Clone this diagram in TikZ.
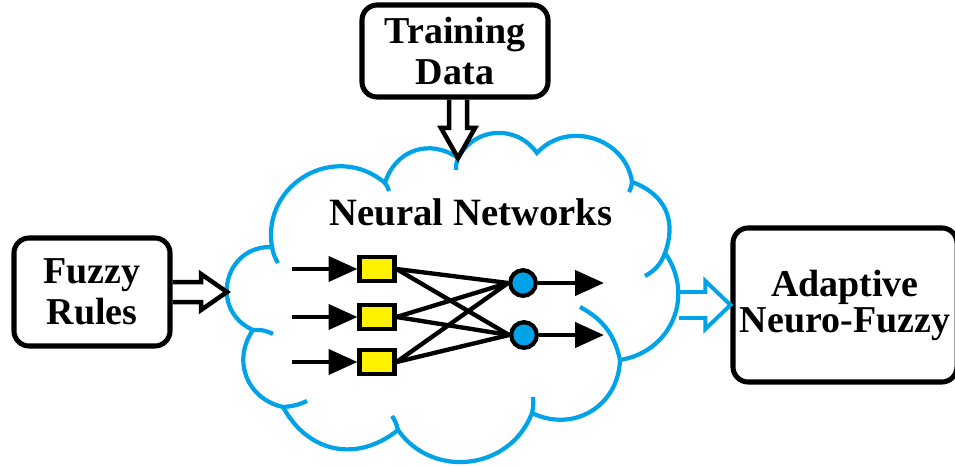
\documentclass[tikz,border=0pt]{standalone}
\usepackage{fontspec}
\setmainfont{Liberation Serif}
\usetikzlibrary{arrows.meta,calc}
\definecolor{skyblue}{RGB}{0,162,232}
\definecolor{unityellow}{RGB}{255,242,0}

\begin{document}
\begin{tikzpicture}[x=0.025cm, y=-0.025cm,
        box/.style={draw, line width=3.6pt, rounded corners=0.38cm, align=center, font=\fontsize{27}{29.5}\selectfont\bfseries},
        hollow/.style={draw, line width=3.2pt, line join=miter},
        cloudline/.style={draw=skyblue, line width=3pt},
        puff/.style={bend left=#1, looseness=1.15},
        wire/.style={line width=3.1pt},
        flow/.style={wire, -{Triangle[length=0.72cm, width=0.62cm]}},
        unit/.style={draw, line width=3pt, fill=unityellow, minimum width=0.87cm, minimum height=0.6cm, inner sep=0pt},
        neuron/.style={circle, draw, line width=3pt, fill=skyblue, minimum size=0.64cm, inner sep=0pt}]
    \useasboundingbox (0,0) rectangle (955,466);

    % Boxes
    \node[box, minimum width=4.65cm, minimum height=2.3cm] (train) at (455,51) {Training\\Data};
    \node[box, minimum width=3.9cm, minimum height=2.7cm] (fuzzy) at (92,292) {Fuzzy\\Rules};
    \node[box, minimum width=5.6cm, minimum height=3.85cm, font=\fontsize{27}{25.5}\selectfont\bfseries] (anfis) at (845,305) {Adaptive\\Neuro-Fuzzy};

    % Cloud
    \draw[cloudline] (458,158) to[puff=58] (537,153) to[puff=65] (632,182) to[puff=45] (665,253)
        to[puff=58] (620,360) to[puff=57] (532,413) to[puff=62] (398,430) to[puff=50] (283,407)
        to[puff=56] (253,330) to[puff=79, looseness=1.45] (272,247) to[puff=70, looseness=1.27] (385,183)
        to[puff=54] (458,158);
    \draw[cloudline] (456,170) to[bend left=10] (458,158)
        (632,182) to[bend left=10] (629,192)
        (665,253) to[bend left=20] (645,276)
        (580,307) to[bend left=25] (620,360)
        (533,397) to[bend left=10] (532,413)
        (392,416) to[bend left=10] (398,430)
        (307,401) to[bend left=10] (283,407)
        (253,330) to[bend left=15] (273,334)
        (278,263) to[bend left=10] (272,247)
        (385,183) to[bend left=10] (389,191);
    \node[font=\fontsize{27.5}{30}\selectfont\bfseries, anchor=base] (title) at (471,225) {Neural Networks};
    \coordinate (ctop) at (458,158);
    \coordinate (cleft) at (227,292);
    \coordinate (cright) at (anfis.west -| 679,0);
    \coordinate (tbot) at (ctop |- train.south);

    % Hollow arrows
    \draw[hollow] ($(tbot)+(-9,0)$) -- ($(ctop)+(-9,-30)$) -- ($(ctop)+(-17,-30)$) -- (ctop)
        -- ($(ctop)+(17,-30)$) -- ($(ctop)+(9,-30)$) -- ($(tbot)+(9,0)$);
    \draw[hollow] ($(fuzzy.east)+(0,-10)$) -- ($(cleft)+(-26,-10)$) -- ($(cleft)+(-26,-18)$) -- (cleft)
        -- ($(cleft)+(-26,18)$) -- ($(cleft)+(-26,10)$) -- ($(fuzzy.east)+(0,10)$);
    \draw[hollow, skyblue, line width=2.8pt] ($(cright)+(0,-13)$) -- ($(anfis.west)+(-25,-13)$) -- ($(anfis.west)+(-25,-24)$) -- (anfis.west)
        -- ($(anfis.west)+(-25,24)$) -- ($(anfis.west)+(-25,13)$) -- ($(cright)+(0,13)$);

    % Network units
    \node[unit] (u1) at (377,269) {};
    \node[unit] (u2) at (377,317) {};
    \node[unit] (u3) at (377,362) {};
    \node[neuron] (n1) at (523,283) {};
    \node[neuron] (n2) at (524,335) {};

    % Inputs and outputs
    \coordinate (in1) at (292,269);
    \coordinate (in2) at (292,317);
    \coordinate (in3) at (292,362);
    \coordinate (out1) at (604,283);
    \coordinate (out2) at (604,335);
    \draw[flow] (in1) -- (u1);
    \draw[flow] (in2) -- (u2);
    \draw[flow] (in3) -- (u3);
    \draw[flow] (n1) -- (out1);
    \draw[flow] (n2) -- (out2);

    % Connections
    \draw[wire] (u1.east) -- (n1.west);
    \draw[wire] (u1.east) -- (n2.west);
    \draw[wire] (u2.east) -- (n1.west);
    \draw[wire] (u2.east) -- (n2.west);
    \draw[wire] (u3.east) -- (n1.west);
    \draw[wire] (u3.east) -- (n2.west);
\end{tikzpicture}
\end{document}
